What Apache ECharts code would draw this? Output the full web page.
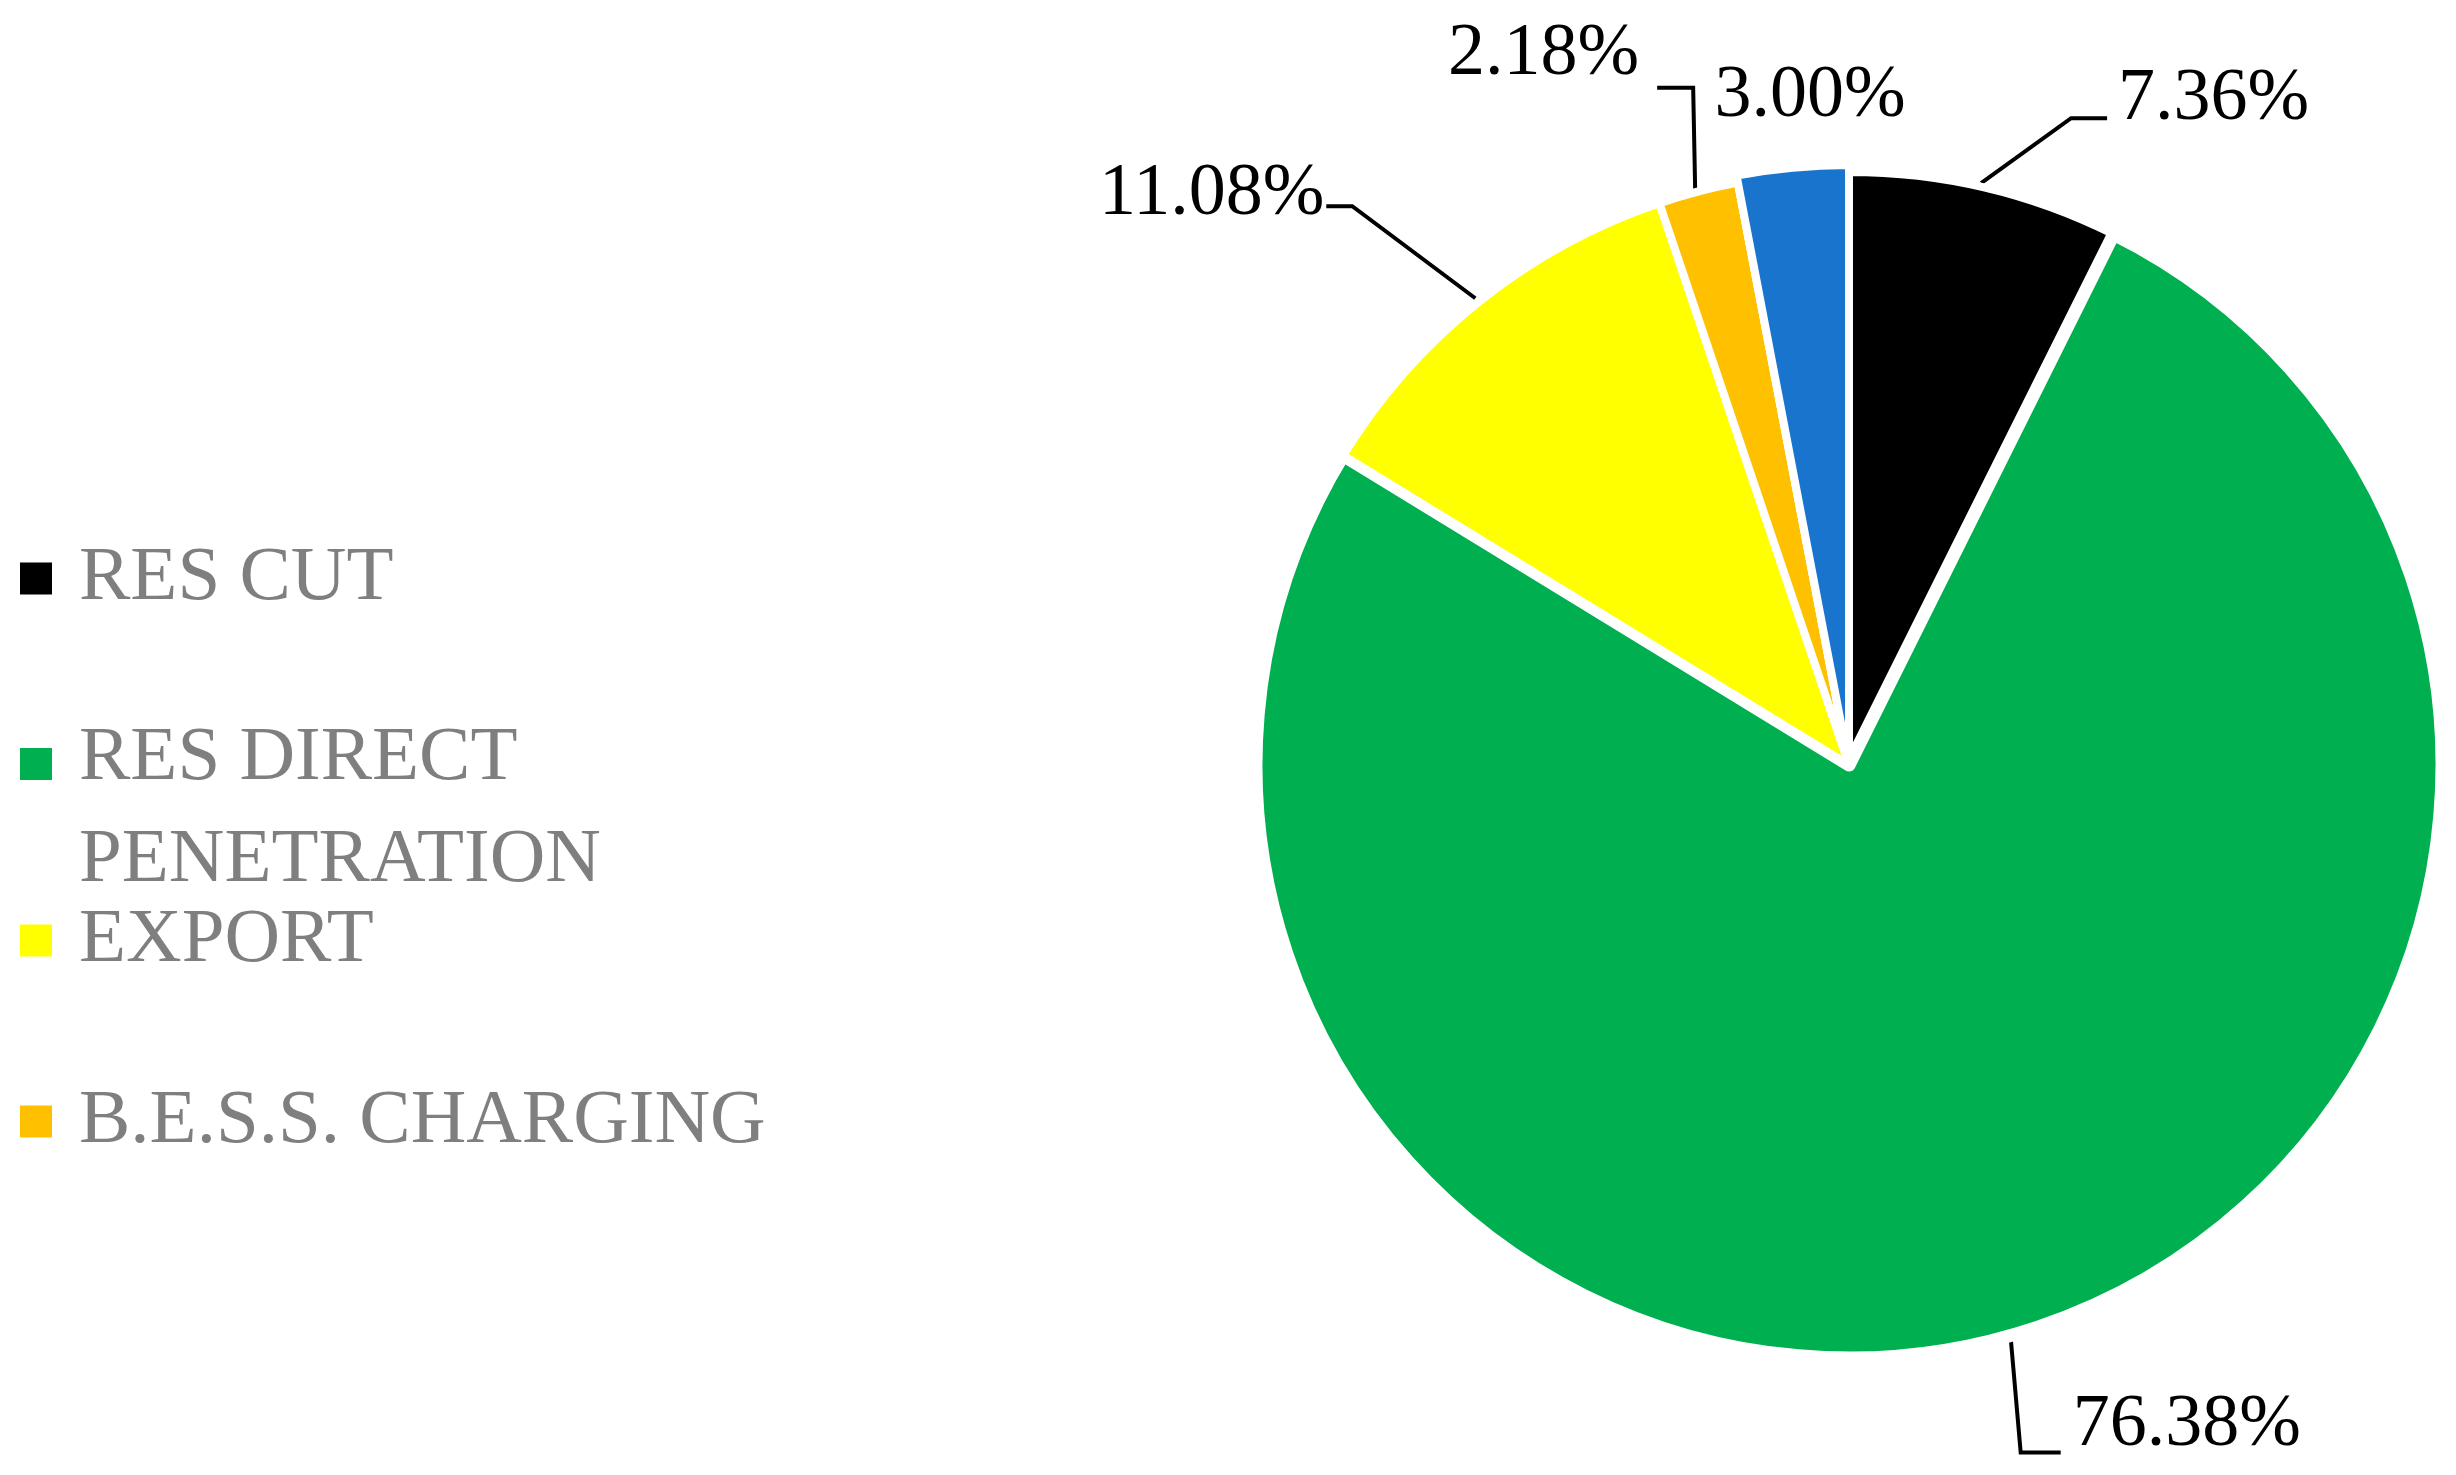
<!DOCTYPE html>
<html>
<head>
<meta charset="utf-8">
<script src="https://cdn.jsdelivr.net/npm/echarts@6/dist/echarts.min.js"></script>
<style>
html,body{margin:0;padding:0;background:#ffffff;}
#chart{width:2456px;height:1475px;}
</style>
</head>
<body>
<div id="chart"></div>
<script>
// ---------- data ----------
const categories = ['RES CUT', 'RES DIRECT\nPENETRATION', 'EXPORT', 'B.E.S.S. CHARGING', 'OTHER'];
const shares = [7.36, 76.38, 11.08, 2.18, 3.00];
const legendCategories = ['RES CUT', 'RES DIRECT\nPENETRATION', 'EXPORT', 'B.E.S.S. CHARGING'];

// ---------- style ----------
const colors = ['#000000', '#00B050', '#FFFF00', '#FFC000', '#1874CD'];
const exploded = [false, false, false, false, true];
const borderWidths = [8, 13, 8, 8, 8];
const CX = 1849, CY = 765, R = 593, VIS_R = 589.5, EXPLODE = 7;
const FONT = "'Liberation Serif', 'Times New Roman', serif";
// label placement relative to the slice edge point at mid angle
const labelPlace = [
  { line: [[-3, -8], [87, -73], [123, -73]], x: 134, y: -92, align: 'left', hideLine: false },
  { line: [[-1, 6], [9, 121], [49, 121]], x: 61, y: 94, align: 'left', hideLine: false },
  { line: [[-6, -6], [-129, -98], [-155, -98]], x: -157, y: -110, align: 'right', hideLine: false },
  { line: [[-4, -5], [-6, -107], [-42, -107]], x: -60, y: -140, align: 'right', hideLine: false },
  { line: [[0, 0], [0, 0], [0, 0]], x: -79, y: -82, align: 'left', hideLine: true }
];
const legendTops = [540, 720, 902, 1083];

const total = shares.reduce((a, b) => a + b, 0);
function edgePoint(i) {
  let cum = 0;
  for (let k = 0; k < i; k++) cum += shares[k];
  const a = (cum + shares[i] / 2) / total * 2 * Math.PI;
  return [CX + VIS_R * Math.sin(a), CY - VIS_R * Math.cos(a)];
}

const chart = echarts.init(document.getElementById('chart'), null, { renderer: 'canvas' });

const legends = legendCategories.map((name, i) => {
  const multi = name.indexOf('\n') >= 0;
  const base = {
    data: [name],
    orient: 'vertical',
    left: 20,
    top: legendTops[i],
    padding: 0,
    itemWidth: 32,
    itemHeight: 32,
    icon: 'rect',
    selectedMode: false,
    itemStyle: { borderWidth: 0 }
  };
  if (multi) {
    base.textStyle = {
      fontFamily: FONT, fontSize: 77, color: '#7F7F7F',
      padding: [0, 0, 0, 22],
      rich: {
        a: { fontFamily: FONT, fontSize: 77, color: '#7F7F7F', lineHeight: 193 },
        b: { fontFamily: FONT, fontSize: 77, color: '#7F7F7F', lineHeight: 11 }
      }
    };
    base.formatter = n => n.split('\n').map((l, k) => '{' + (k === 0 ? 'a' : 'b') + '|' + l + '}').join('\n');
  } else {
    base.textStyle = {
      fontFamily: FONT, fontSize: 77, color: '#7F7F7F',
      lineHeight: 20,
      padding: [0, 0, 11, 22]
    };
  }
  return base;
});

const option = {
  animation: false,
  backgroundColor: '#ffffff',
  legend: legends,
  series: [{
    type: 'pie',
    center: [CX, CY],
    radius: R,
    startAngle: 90,
    clockwise: true,
    avoidLabelOverlap: false,
    emphasis: { disabled: true },
    itemStyle: { borderColor: '#ffffff', borderWidth: 8 },
    label: {
      show: true,
      position: 'outside',
      fontFamily: FONT,
      fontSize: 74,
      color: '#000000',
      formatter: p => p.value.toFixed(2) + '%'
    },
    labelLine: {
      show: true,
      length: 20,
      length2: 20,
      lineStyle: { color: '#000000', width: 4 }
    },
    labelLayout: function (p) {
      const i = p.dataIndex;
      const e = edgePoint(i);
      const pl = labelPlace[i];
      return {
        x: e[0] + pl.x,
        y: e[1] + pl.y,
        align: pl.align,
        verticalAlign: 'middle',
        labelLinePoints: pl.line.map(d => [e[0] + d[0], e[1] + d[1]])
      };
    },
    data: shares.map((v, i) => ({
      name: categories[i],
      value: v,
      itemStyle: { color: colors[i], borderColor: '#ffffff', borderWidth: borderWidths[i] },
      labelLine: labelPlace[i].hideLine ? { lineStyle: { opacity: 0, width: 0 } } : {}
    }))
  }, {
    // pulled-out slice drawn slightly larger on top
    type: 'pie',
    center: [CX, CY],
    radius: R + EXPLODE,
    startAngle: 90,
    clockwise: true,
    silent: true,
    emphasis: { disabled: true },
    label: { show: false },
    labelLine: { show: false },
    data: shares.map((v, i) => ({
      name: categories[i],
      value: v,
      itemStyle: exploded[i]
        ? { color: colors[i], borderColor: '#ffffff', borderWidth: borderWidths[i] }
        : { color: 'rgba(0,0,0,0)', borderWidth: 0 }
    }))
  }]
};
chart.setOption(option);
</script>
</body>
</html>
